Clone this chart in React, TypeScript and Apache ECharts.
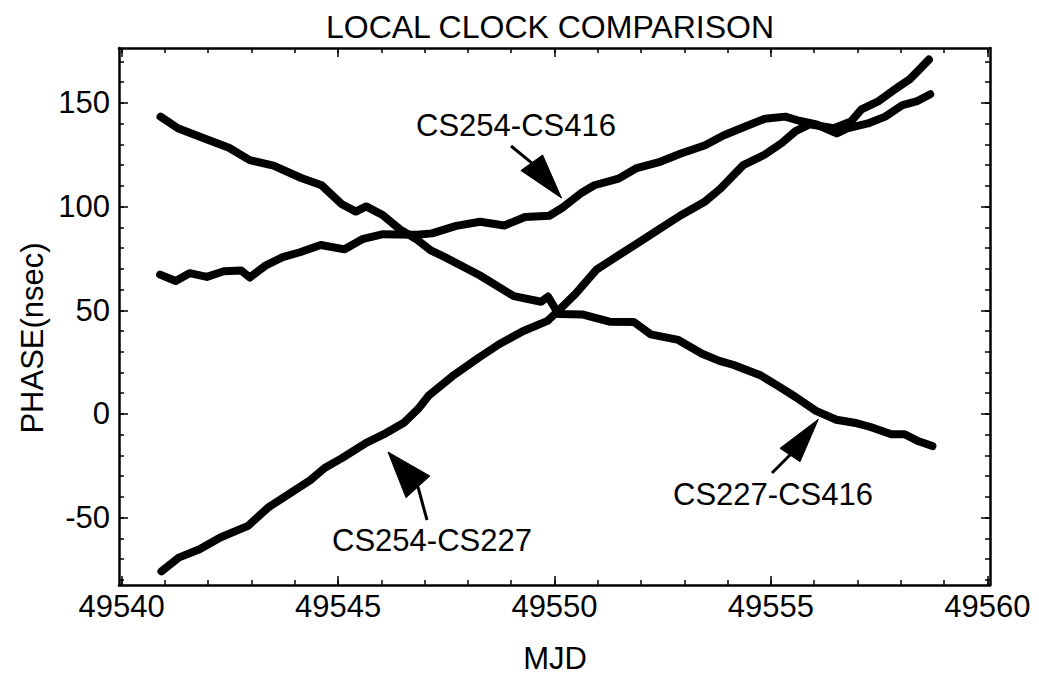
import React, { useEffect, useRef } from "react";
import * as echarts from "echarts";

// ---- data ----
const cs227_416_mjd = [49540.90, 49541.30, 49541.93, 49542.48, 49542.96, 49543.51, 49544.15, 49544.62, 49545.09, 49545.41, 49545.65, 49546.04, 49546.43, 49546.83, 49547.14, 49547.48, 49548.27, 49549.06, 49549.69, 49549.85, 49550.09, 49550.64, 49551.27, 49551.83, 49552.22, 49552.86, 49553.41, 49553.81, 49554.14, 49554.77, 49555.17, 49555.56, 49556.04, 49556.51, 49556.99, 49557.30, 49557.78, 49558.09, 49558.41, 49558.73];
const cs227_416_phase = [143.4, 137.8, 132.7, 128.4, 122.4, 119.8, 113.8, 110.3, 101.1, 97.6, 100.1, 95.8, 89.0, 84.0, 78.9, 75.5, 66.9, 56.8, 54.1, 56.6, 48.2, 48.0, 44.5, 44.4, 38.4, 35.7, 29.0, 25.6, 23.6, 18.5, 13.4, 8.3, 1.5, -2.8, -4.5, -6.3, -9.8, -9.8, -13.2, -15.5];

const cs254_416_mjd = [49540.89, 49541.25, 49541.57, 49541.97, 49542.36, 49542.76, 49542.96, 49543.32, 49543.72, 49544.12, 49544.60, 49545.15, 49545.56, 49546.04, 49546.36, 49546.83, 49547.17, 49547.73, 49548.28, 49548.84, 49549.32, 49549.88, 49550.20, 49550.60, 49550.92, 49551.48, 49551.88, 49552.44, 49552.92, 49553.48, 49553.90, 49554.38, 49554.86, 49555.33, 49555.65, 49556.05, 49556.52, 49556.76, 49557.24, 49557.64, 49558.04, 49558.36, 49558.68];
const cs254_416_phase = [67.2, 64.1, 67.9, 66.1, 68.8, 69.2, 65.8, 71.5, 75.6, 78.0, 81.5, 79.4, 84.3, 86.7, 86.6, 86.4, 87.1, 90.7, 92.7, 90.9, 95.0, 95.6, 99.7, 106.3, 110.3, 113.5, 118.4, 121.6, 125.6, 129.6, 134.3, 138.4, 142.4, 143.4, 141.4, 139.6, 135.3, 137.7, 140.1, 143.4, 149.0, 150.7, 154.2];

const cs254_227_mjd = [49540.92, 49541.32, 49541.80, 49542.28, 49542.92, 49543.40, 49543.88, 49544.36, 49544.69, 49545.09, 49545.65, 49546.05, 49546.53, 49546.85, 49547.10, 49547.68, 49548.24, 49548.72, 49549.28, 49549.84, 49550.09, 49550.49, 49550.97, 49551.45, 49551.94, 49552.42, 49552.90, 49553.46, 49553.83, 49554.36, 49554.85, 49555.25, 49555.57, 49555.89, 49556.45, 49556.85, 49557.09, 49557.49, 49557.81, 49558.21, 49558.65];
const cs254_227_phase = [-75.9, -69.3, -65.3, -59.6, -54.0, -44.9, -38.4, -31.9, -26.1, -21.3, -13.9, -9.9, -4.1, 2.4, 9.0, 18.8, 27.0, 33.6, 40.0, 44.9, 49.8, 58.0, 69.6, 76.1, 82.6, 89.1, 95.6, 102.2, 108.6, 120.0, 125.0, 130.7, 136.4, 139.7, 137.8, 141.1, 146.9, 150.9, 155.8, 161.5, 170.9];

const xMajorTicks = [49540, 49545, 49550, 49555, 49560];
const xMinorTicks = [49540, 49541, 49542, 49543, 49544, 49545, 49546, 49547, 49548, 49549, 49550, 49551, 49552, 49553, 49554, 49555, 49556, 49557, 49558, 49559, 49560];
const yMajorTicks = [-50, 0, 50, 100, 150];
const yMinorTicks = [-80, -70, -60, -50, -40, -30, -20, -10, 0, 10, 20, 30, 40, 50, 60, 70, 80, 90, 100, 110, 120, 130, 140, 150, 160, 170];

const seriesNames = ["CS227-CS416", "CS254-CS416", "CS254-CS227"];
const titleText = "LOCAL CLOCK COMPARISON";
const xName = "MJD";
const yName = "PHASE(nsec)";

const X_MIN = 49539.94;
const X_MAX = 49560.06;
const Y_MIN = -82.5;
const Y_MAX = 176.5;

const FONT = "'Liberation Sans', Arial, Helvetica, sans-serif";
const BLACK = "#000";

function pairs(xs: number[], ys: number[]) {
  return xs.map((x, i) => [x, ys[i]]);
}

function xAxisDef(position: "bottom" | "top", ticks: number[], len: number, showLine: boolean, showLabels: boolean) {
  return {
    type: "value",
    min: X_MIN,
    max: X_MAX,
    position,
    axisLine: { show: showLine, onZero: false, lineStyle: { color: BLACK, width: 2.5 } },
    axisTick: { show: true, inside: true, length: len, customValues: ticks, lineStyle: { color: BLACK, width: 1.5 } },
    axisLabel: {
      show: showLabels,
      customValues: ticks,
      fontSize: 31,
      color: BLACK,
      fontFamily: FONT,
      margin: 6,
      formatter: (v: number) => String(v),
    },
    splitLine: { show: false },
  };
}

function yAxisDef(position: "left" | "right", ticks: number[], len: number, showLine: boolean, showLabels: boolean) {
  return {
    type: "value",
    min: Y_MIN,
    max: Y_MAX,
    position,
    axisLine: { show: showLine, onZero: false, lineStyle: { color: BLACK, width: 2.5 } },
    axisTick: { show: true, inside: true, length: len, customValues: ticks, lineStyle: { color: BLACK, width: 1.5 } },
    axisLabel: {
      show: showLabels,
      customValues: ticks,
      fontSize: 31,
      color: BLACK,
      fontFamily: FONT,
      margin: 9,
      formatter: (v: number) => String(v),
    },
    splitLine: { show: false },
  };
}

function arrow(tail: number[], baseMid: number[], head: number[][]) {
  return [
    {
      type: "line",
      shape: { x1: tail[0], y1: tail[1], x2: baseMid[0], y2: baseMid[1] },
      style: { stroke: BLACK, lineWidth: 3 },
      silent: true,
    },
    {
      type: "polygon",
      shape: { points: head },
      style: { fill: BLACK, stroke: BLACK, lineWidth: 1 },
      silent: true,
    },
  ];
}

function label(text: string, x: number, y: number, size = 31, rotation = 0) {
  return {
    type: "text",
    x,
    y,
    rotation,
    silent: true,
    style: {
      text,
      fill: BLACK,
      font: `${size}px ${FONT}`,
      textAlign: "center",
      textVerticalAlign: "middle",
    },
  };
}

export default function App() {
  const ref = useRef<HTMLDivElement>(null);

  useEffect(() => {
    if (!ref.current) return;
    const chart = echarts.init(ref.current, null, { renderer: "svg" });
    const lineStyle = { color: BLACK, width: 8, cap: "round", join: "round" };
    const option: any = {
      animation: false,
      backgroundColor: "#fff",
      grid: { left: 119, right: 49, top: 48, bottom: 101, containLabel: false },
      xAxis: [
        xAxisDef("bottom", xMajorTicks, 9, true, true),
        xAxisDef("bottom", xMinorTicks, 5, false, false),
        xAxisDef("top", xMajorTicks, 9, true, false),
        xAxisDef("top", xMinorTicks, 5, false, false),
      ],
      yAxis: [
        yAxisDef("left", yMajorTicks, 9, true, true),
        yAxisDef("left", yMinorTicks, 5, false, false),
        yAxisDef("right", yMajorTicks, 9, true, false),
        yAxisDef("right", yMinorTicks, 5, false, false),
      ],
      series: [
        { name: seriesNames[0], type: "line", data: pairs(cs227_416_mjd, cs227_416_phase) },
        { name: seriesNames[1], type: "line", data: pairs(cs254_416_mjd, cs254_416_phase) },
        { name: seriesNames[2], type: "line", data: pairs(cs254_227_mjd, cs254_227_phase) },
      ].map((s) => ({
        ...s,
        xAxisIndex: 0,
        yAxisIndex: 0,
        showSymbol: false,
        symbol: "none",
        silent: true,
        lineStyle,
      })),
      graphic: [
        label(titleText, 550, 27, 32),
        label(xName, 555, 658, 31),
        label(yName, 32, 338, 31, Math.PI / 2),
        label(seriesNames[1], 516, 125, 31),
        label(seriesNames[2], 432, 540, 31),
        label(seriesNames[0], 773, 494, 31),
        ...arrow([511, 146], [531.7, 162.8], [[561.5, 198], [520.9, 170.5], [542.6, 155]]),
        ...arrow([427, 520], [418, 487], [[388, 452], [406, 497.7], [429.9, 476]]),
        ...arrow([772, 473], [790, 455], [[818.3, 419.3], [780, 448.3], [800, 461.7]]),
      ],
    };
    chart.setOption(option);
    return () => chart.dispose();
  }, []);

  return (
    <div
      ref={ref}
      style={{ position: "fixed", left: 0, top: 0, width: 1039, height: 686, background: "#fff" }}
    />
  );
}
